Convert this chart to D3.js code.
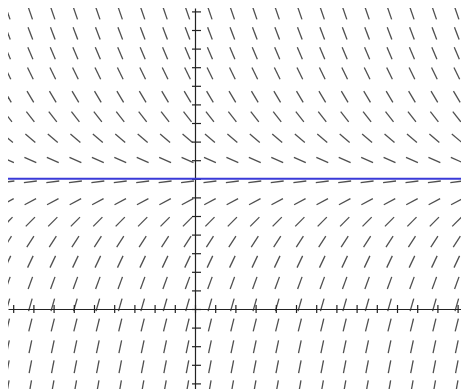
<!DOCTYPE html>
<html>
<head>
<meta charset="utf-8">
<script src="https://cdn.jsdelivr.net/npm/d3@7"></script>
<style>
    body { margin: 0; background: #fff; }
</style>
</head>
<body>
<div id="chart"></div>
<script>
// slope field with one equilibrium solution

// grid columns (x) and rows (y) where the slope marks sit
var fieldX = [-9.26, -8.15, -7.04, -5.92, -4.81, -3.70, -2.59, -1.48, -0.37, 0.74,
              1.85, 2.96, 4.07, 5.19, 6.30, 7.41, 8.52, 9.63, 10.74, 11.85, 12.96];
var fieldY = [15.90, 14.82, 13.75, 12.67, 11.41, 10.34, 9.18, 8.01, 6.84, 5.77,
              4.69, 3.62, 2.54, 1.40, 0.22, -0.86, -2.03, -3.10, -4.18];
// dy/dx read off each row (the field does not change along x)
var rowSlopes = [-3.15, -2.83, -2.56, -2.23, -1.81, -1.39, -0.91, -0.48, 0.13, 0.58,
                 1.09, 1.67, 2.30, 2.98, 3.79, 4.36, 5.11, 5.59, 6.16];
// equilibrium solution
var equilibrium = [7];

var xTicks = d3.range(-9, 14);
var yTicks = d3.range(-4, 17);

var width = 461;
var height = 389;
var marginLeft = 8;
var marginTop = 8;

var x = d3.scaleLinear().domain([-9.257, 13.168]).range([marginLeft, width]);
var y = d3.scaleLinear().domain([16.183, -4.301]).range([marginTop, height]);

var svg = d3.select("#chart").append("svg")
    .attr("width", width)
    .attr("height", height);

svg.append("clipPath").attr("id", "plot")
    .append("rect")
    .attr("x", marginLeft).attr("y", marginTop)
    .attr("width", width - marginLeft).attr("height", height - marginTop);

var g = svg.append("g").attr("clip-path", "url(#plot)");

// slope marks
var half = 6.5;
var marks = [];
fieldY.forEach(function(yv, i) {
    fieldX.forEach(function(xv) {
        marks.push({x: xv, y: yv, s: rowSlopes[i]});
    });
});

g.selectAll("line.mark").data(marks).enter().append("line")
    .attr("class", "mark")
    .each(function(d) {
        var cx = x(d.x), cy = y(d.y);
        var dx = x(d.x + 1) - cx;
        var dy = y(d.y + d.s) - cy;
        var n = Math.sqrt(dx * dx + dy * dy);
        d3.select(this)
            .attr("x1", cx - dx / n * half).attr("y1", cy - dy / n * half)
            .attr("x2", cx + dx / n * half).attr("y2", cy + dy / n * half);
    })
    .attr("stroke", "#4f4f4f")
    .attr("stroke-width", 1.3);

// axes
var xAxis = d3.axisBottom(x).tickValues(xTicks).tickSizeOuter(0).tickFormat("");
var gx = g.append("g").attr("transform", "translate(0," + y(0) + ")").call(xAxis);
gx.selectAll(".tick line").attr("y1", -4).attr("y2", 4);

var yAxis = d3.axisRight(y).tickValues(yTicks).tickSizeOuter(0).tickFormat("");
var gy = g.append("g").attr("transform", "translate(" + x(0) + ",0)").call(yAxis);
gy.selectAll(".tick line").attr("x1", -3).attr("x2", 6);

g.selectAll(".domain, .tick line")
    .attr("stroke", "#222")
    .attr("stroke-width", 1.2);

// equilibrium line
g.selectAll("line.eq").data(equilibrium).enter().append("line")
    .attr("class", "eq")
    .attr("x1", x.range()[0]).attr("x2", x.range()[1])
    .attr("y1", function(d) { return y(d); })
    .attr("y2", function(d) { return y(d); })
    .attr("stroke", "#3a3ad8")
    .attr("stroke-width", 2);
</script>
</body>
</html>
